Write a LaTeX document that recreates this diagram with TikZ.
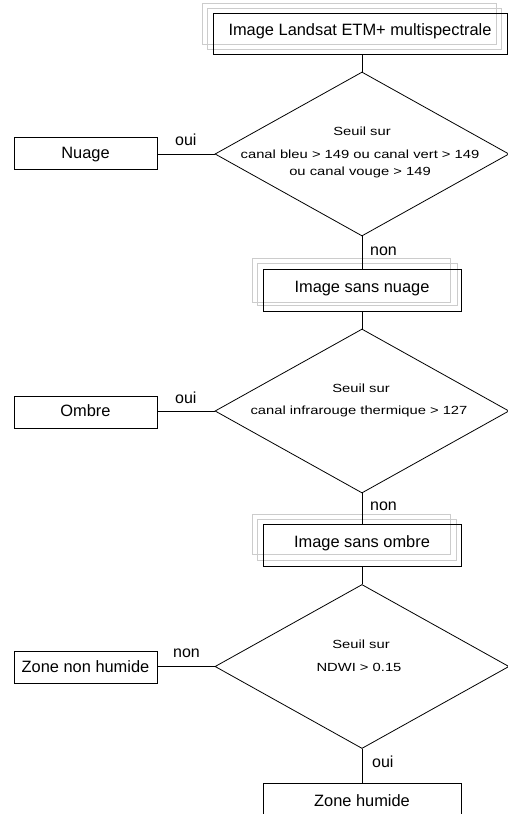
\documentclass[tikz,border=0pt]{standalone}
\usepackage{fontspec}
\setmainfont{Liberation Sans}
\usetikzlibrary{shapes.geometric,calc}
\begin{document}
\begin{tikzpicture}[x=1pt,y=-1pt,
  mainbox/.style={draw,line width=0.8pt,minimum width=198pt,minimum height=42pt,inner sep=0pt,text height=9pt,text depth=4pt,font=\fontsize{16.4}{18}\selectfont},
  sidebox/.style={draw,line width=0.8pt,minimum width=143pt,minimum height=32pt,inner sep=0pt,text height=11.5pt,text depth=2.5pt,font=\fontsize{16.4}{18}\selectfont},
  decision/.style={draw,diamond,line width=0.8pt,minimum width=294pt,minimum height=164pt,inner sep=0pt},
  dtext/.style={font=\fontsize{11.8}{14}\selectfont,inner sep=0pt,anchor=base},
  lab/.style={font=\fontsize{16}{18}\selectfont,inner sep=0pt,anchor=base west},
  faint/.style={draw=black!20,line width=0.6pt},
  conn/.style={line width=0.8pt}]
\clip (0,0) rectangle (508,814);
\fill[white] (0,0) rectangle (508,814);

% faint shadow frames (drawn first)
\coordinate (tnw) at (213,13);
\coordinate (tse) at (507,54);
\draw[faint] ($(tnw)+(-11,-10)$) rectangle ($(tse)+(-11,-10)$);
\draw[faint] ($(tnw)+(-6,-5)$) rectangle ($(tse)+(-6,-5)$);
\coordinate (anw) at (263,269);
\coordinate (ase) at (461,311);
\draw[faint] ($(anw)+(-11,-11)$) rectangle ($(ase)+(-11,-9)$);
\draw[faint] ($(anw)+(-6,-6)$) rectangle ($(ase)+(-4,-6)$);
\coordinate (bnw) at (263,524);
\coordinate (bse) at (461,566);
\draw[faint] ($(bnw)+(-11,-10)$) rectangle ($(bse)+(-11,-12)$);
\draw[faint] ($(bnw)+(-6,-5)$) rectangle ($(bse)+(-5,-6)$);

% main column
\node[mainbox,minimum width=294pt,minimum height=41pt,text height=8pt,text depth=5pt] (top) at (360,33.5) {Image Landsat ETM+ multispectrale};
\node[decision] (d1) at (362,154) {};
\node[mainbox] (img1) at (362,290) {Image sans nuage};
\node[decision] (d2) at (362,411) {};
\node[mainbox] (img2) at (362,545) {Image sans ombre};
\node[decision] (d3) at (362,666.5) {};
\node[mainbox] (zh) at (362,804) {Zone humide};

% side boxes
\node[sidebox] (nuage) at (85.5,153.5) {Nuage};
\node[sidebox] (ombre) at (85.5,412) {Ombre};
\node[sidebox] (znh) at (85.5,667.5) {Zone non humide};

% decision texts
\node[dtext] (t11) at (362,135) {\scalebox{1.25}[1]{Seuil sur}};
\node[dtext] (t12) at (360,158) {\scalebox{1.25}[1]{canal bleu > 149 ou canal vert > 149}};
\node[dtext] (t13) at (360,175) {\scalebox{1.25}[1]{ou canal vouge > 149}};
\node[dtext] (t21) at (361,392) {\scalebox{1.25}[1]{Seuil sur}};
\node[dtext] (t22) at (359,414) {\scalebox{1.25}[1]{canal infrarouge thermique > 127}};
\node[dtext] (t31) at (361,648) {\scalebox{1.25}[1]{Seuil sur}};
\node[dtext] (t32) at (359,671) {\scalebox{1.25}[1]{NDWI > 0.15}};

% connectors
\draw[conn] (top.south -| d1.north) -- (d1.north);
\draw[conn] (d1.south) -- (img1.north);
\draw[conn] (img1.south) -- (d2.north);
\draw[conn] (d2.south) -- (img2.north);
\draw[conn] (img2.south) -- (d3.north);
\draw[conn] (d3.south) -- (zh.north);
\draw[conn] (d1.west) -- (d1.west -| nuage.east);
\draw[conn] (d2.west) -- (d2.west -| ombre.east);
\draw[conn] (d3.west) -- (d3.west -| znh.east);

% labels
\node[lab] (l1) at (175,145) {oui};
\node[lab] (l2) at (370,255) {non};
\node[lab] (l3) at (175,403) {oui};
\node[lab] (l4) at (370,510) {non};
\node[lab] (l5) at (173,657) {non};
\node[lab] (l6) at (372,767) {oui};
\end{tikzpicture}
\end{document}
